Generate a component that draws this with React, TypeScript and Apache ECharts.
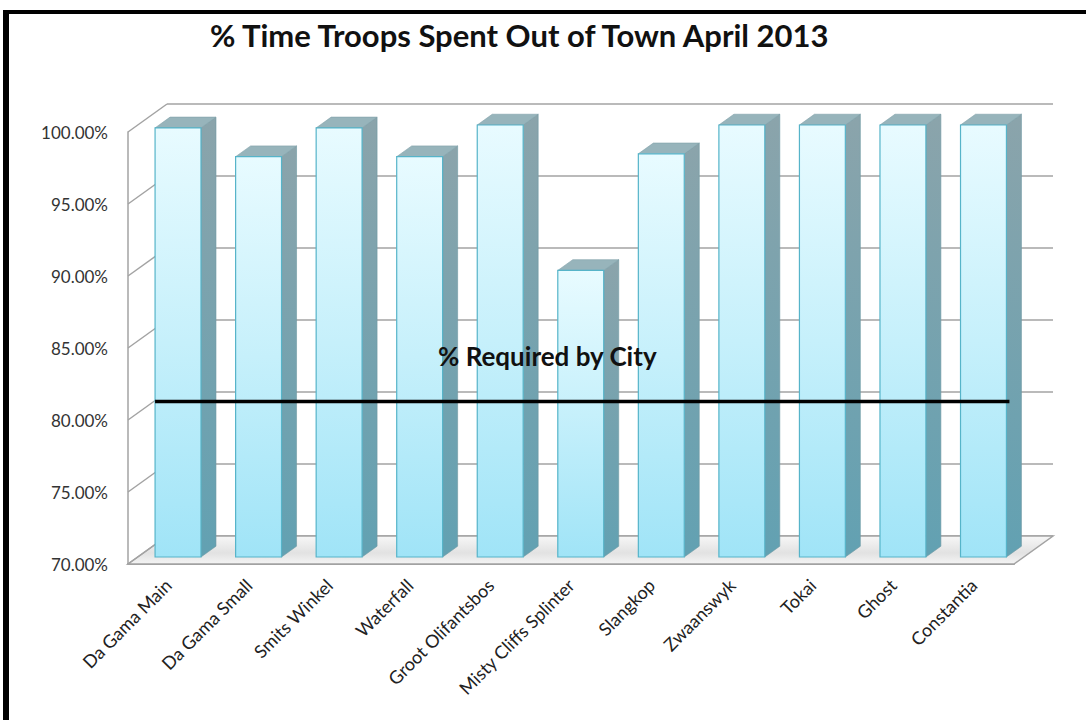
import React, { useEffect, useRef } from 'react';
import * as echarts from 'echarts';

const categories = [
  'Da Gama Main',
  'Da Gama Small',
  'Smits Winkel',
  'Waterfall',
  'Groot Olifantsbos',
  'Misty Cliffs Splinter',
  'Slangkop',
  'Zwaanswyk',
  'Tokai',
  'Ghost',
  'Constantia',
];
const timeOutOfTown = [99.8, 97.8, 99.8, 97.8, 100, 89.9, 98.0, 100, 100, 100, 100];
const requiredByCity = 80.8;
const yMin = 70;
const yMax = 100;
const yStep = 5;
const yTicks = [70, 75, 80, 85, 90, 95, 100];
const chartTitle = '% Time Troops Spent Out of Town April 2013';
const refLabel = '% Required by City';

// 3D depth vector (pixels) from front plane to back wall
const DX = 39;
const DY = -28;
const BAR_FRONT = 0.25;
const BAR_BACK = 0.635;
const BAR_RATIO = 0.57;

export default function App() {
  const ref = useRef<HTMLDivElement>(null);

  useEffect(() => {
    if (!ref.current) return;
    const chart = echarts.init(ref.current, null, { renderer: 'svg' });

    const frontGrad = new echarts.graphic.LinearGradient(0, 0, 0, 1, [
      { offset: 0, color: '#e8fbff' },
      { offset: 0.5, color: '#c6f0fb' },
      { offset: 1, color: '#a0e4f7' },
    ]);
    const sideGrad = new echarts.graphic.LinearGradient(0, 0, 0, 1, [
      { offset: 0, color: '#8ba4ab' },
      { offset: 1, color: '#62a1b2' },
    ]);

    const option: any = {
      animation: false,
      backgroundColor: '#ffffff',
      title: {
        text: chartTitle,
        left: 205,
        top: 14,
        textStyle: {
          fontFamily: 'Lato',
          fontWeight: 'bold',
          fontSize: 31,
          color: '#111111',
        },
      },
      graphic: [
        { type: 'rect', shape: { x: 3, y: 10, width: 6, height: 710 }, style: { fill: '#000' }, z: 100 },
        { type: 'rect', shape: { x: 3, y: 10, width: 1083, height: 4 }, style: { fill: '#000' }, z: 100 },
        {
          type: 'text',
          x: 438,
          y: 356,
          z: 100,
          style: {
            text: refLabel,
            font: 'bold 26px Lato',
            fill: '#111111',
            align: 'left',
            verticalAlign: 'middle',
          },
        },
      ],
      grid: [
        { left: 128, top: 132, width: 886, height: 432, containLabel: false },
        { left: 128 + DX, top: 132 + DY, width: 886, height: 432, containLabel: false },
      ],
      xAxis: [
        {
          type: 'category',
          gridIndex: 0,
          data: categories,
          axisLine: { show: true, lineStyle: { color: '#a3a3a3', width: 2 } },
          axisTick: { show: false },
          axisLabel: {
            interval: 0,
            rotate: 45,
            margin: 18,
            fontFamily: 'Lato',
            fontSize: 18,
            color: '#222222',
          },
          splitLine: { show: false },
        },
        {
          type: 'category',
          gridIndex: 1,
          data: categories,
          show: false,
        },
      ],
      yAxis: [
        {
          type: 'value',
          gridIndex: 0,
          min: yMin,
          max: yMax,
          interval: yStep,
          axisLine: { show: true, lineStyle: { color: '#a3a3a3', width: 1.5 } },
          axisTick: { show: false },
          splitLine: { show: false },
          axisLabel: {
            margin: 20,
            fontFamily: 'Lato',
            fontSize: 17,
            color: '#333333',
            formatter: (v: number) => v.toFixed(2) + '%',
          },
        },
        {
          type: 'value',
          gridIndex: 1,
          min: yMin,
          max: yMax,
          interval: yStep,
          axisLine: { show: false },
          axisTick: { show: false },
          axisLabel: { show: false },
          splitLine: { show: true, lineStyle: { color: '#a3a3a3', width: 1.5 } },
        },
      ],
      series: [
        // floor
        {
          type: 'custom',
          xAxisIndex: 0,
          yAxisIndex: 0,
          z: 1,
          data: [[0, yMin]],
          renderItem: (params: any, api: any) => {
            const cs = params.coordSys;
            const yb = api.coord([0, yMin])[1];
            const xl = cs.x;
            const xr = cs.x + cs.width;
            return {
              type: 'polygon',
              shape: { points: [[xl, yb], [xr, yb], [xr + DX, yb + DY], [xl + DX, yb + DY]] },
              style: {
                fill: new echarts.graphic.LinearGradient(0, 0, 0, 1, [
                  { offset: 0, color: '#f7f7f7' },
                  { offset: 0.6, color: '#e2e2e2' },
                  { offset: 1, color: '#f4f4f4' },
                ]),
                stroke: '#a3a3a3',
                lineWidth: 1.5,
              },
            };
          },
        },
        // left wall diagonals
        {
          type: 'custom',
          xAxisIndex: 0,
          yAxisIndex: 0,
          z: 1,
          data: yTicks.map((v) => [0, v]),
          renderItem: (params: any, api: any) => {
            const cs = params.coordSys;
            const y = api.coord([0, api.value(1)])[1];
            return {
              type: 'line',
              shape: { x1: cs.x, y1: y, x2: cs.x + DX, y2: y + DY },
              style: { stroke: '#a3a3a3', lineWidth: 1.5 },
            };
          },
        },
        // bars
        {
          type: 'custom',
          xAxisIndex: 0,
          yAxisIndex: 0,
          z: 3,
          data: timeOutOfTown.map((v, i) => [i, v]),
          renderItem: (params: any, api: any) => {
            const i = api.value(0);
            const v = api.value(1);
            const base = api.coord([i, yMin]);
            const top = api.coord([i, v]);
            const w = api.size([1, 0])[0] * BAR_RATIO;
            const fx = DX * BAR_FRONT;
            const fy = DY * BAR_FRONT;
            const bx = DX * (BAR_BACK - BAR_FRONT);
            const by = DY * (BAR_BACK - BAR_FRONT);
            const x0 = base[0] - w / 2 + fx;
            const x1 = x0 + w;
            const yb = base[1] + fy;
            const yt = top[1] + fy;
            return {
              type: 'group',
              children: [
                {
                  type: 'polygon',
                  shape: { points: [[x1, yb], [x1, yt], [x1 + bx, yt + by], [x1 + bx, yb + by]] },
                  style: { fill: sideGrad, stroke: '#6f98a3', lineWidth: 0.6 },
                },
                {
                  type: 'polygon',
                  shape: { points: [[x0, yt], [x1, yt], [x1 + bx, yt + by], [x0 + bx, yt + by]] },
                  style: { fill: '#97b4bb', stroke: '#7fa0a8', lineWidth: 0.6 },
                },
                {
                  type: 'rect',
                  shape: { x: x0, y: yt, width: w, height: yb - yt },
                  style: { fill: frontGrad, stroke: '#56b4c9', lineWidth: 1.2 },
                },
              ],
            };
          },
        },
        // required by city line
        {
          type: 'custom',
          xAxisIndex: 0,
          yAxisIndex: 0,
          z: 5,
          data: [[0, requiredByCity]],
          renderItem: (params: any, api: any) => {
            const v = api.value(1);
            const w = api.size([1, 0])[0] * BAR_RATIO;
            const a = api.coord([0, v]);
            const b = api.coord([categories.length - 1, v]);
            const fx = DX * BAR_FRONT;
            const fy = DY * BAR_FRONT;
            return {
              type: 'line',
              shape: { x1: a[0] - w / 2 + fx, y1: a[1] + fy, x2: b[0] + w / 2 + fx + 3, y2: b[1] + fy },
              style: { stroke: '#000000', lineWidth: 3.5 },
            };
          },
        },
      ],
    };

    chart.setOption(option);
    return () => chart.dispose();
  }, []);

  return (
    <div
      ref={ref}
      style={{ position: 'absolute', left: 0, top: 0, width: 1086, height: 720, background: '#fff' }}
    />
  );
}
